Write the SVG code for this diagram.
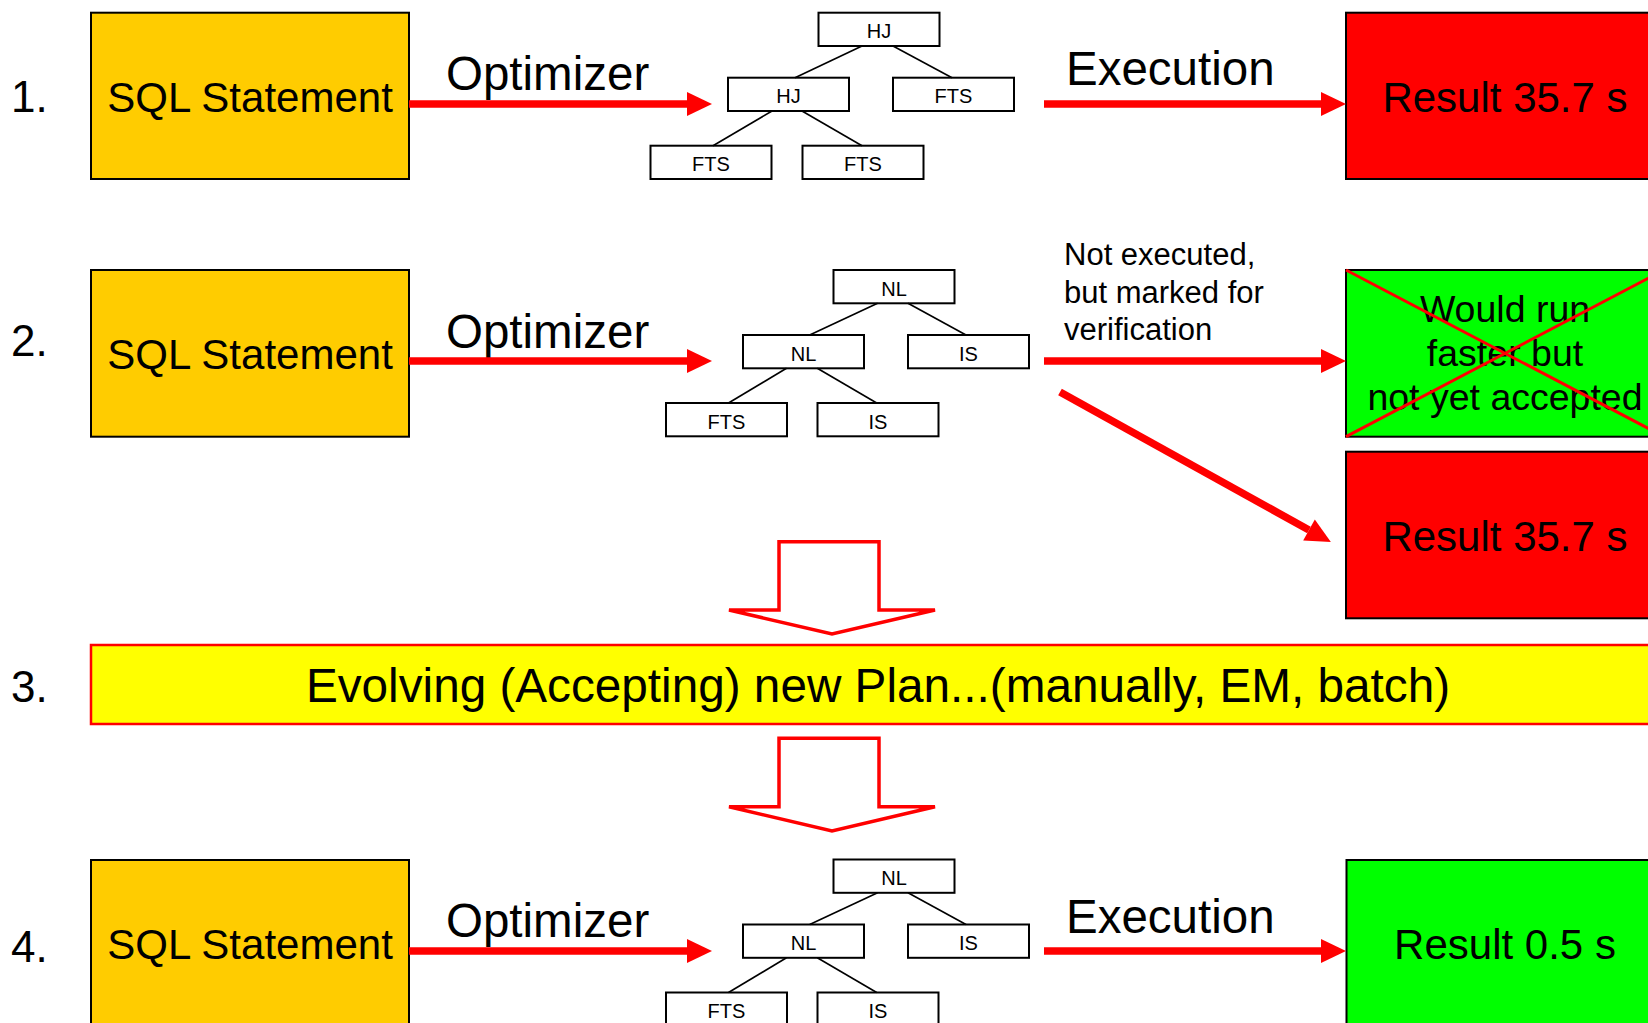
<svg xmlns="http://www.w3.org/2000/svg" width="1648" height="1023" viewBox="0 0 1648 1023">
<style>
text{font-family:"Liberation Sans",Arial,sans-serif;fill:#000}
.sql{fill:#FFCC00;stroke:#000;stroke-width:2}
.red{fill:#FF0000;stroke:#000;stroke-width:2}
.green{fill:#00FF00;stroke:#000;stroke-width:2}
.bar{fill:#FFFF00;stroke:#FF0000;stroke-width:2.5}
.tb{fill:#fff;stroke:#000;stroke-width:2}
.tl{stroke:#000;stroke-width:1.6}
.tt{font-size:20px;text-anchor:middle}
.big{font-size:42px}
.lbl{font-size:47.5px}
.num{font-size:44px}
.mid{text-anchor:middle}
.arr{stroke:#FF0000;stroke-width:7.5;fill:none;marker-end:url(#ah)}
.hollow{fill:#fff;stroke:#FF0000;stroke-width:3.5;stroke-linejoin:miter}
.note{font-size:31px}
.x{stroke:#FF0000;stroke-width:3}
</style>
<defs>
<marker id="ah" markerUnits="userSpaceOnUse" markerWidth="25" markerHeight="24" refX="0" refY="12" orient="auto" overflow="visible">
<path d="M0,0 L25,12 L0,24 Z" fill="#FF0000"/>
</marker>
</defs>

<!-- Row numbers -->
<g id="num1"><text class="num" x="11" y="112">1.</text></g>
<g id="num2"><text class="num" x="11" y="356">2.</text></g>
<g id="num3"><text class="num" x="11" y="702">3.</text></g>
<g id="num4"><text class="num" x="11" y="962">4.</text></g>

<!-- Row 1 -->
<g id="sql1"><rect class="sql" x="91" y="12.7" width="318" height="166.3"/><text class="big mid" x="250" y="112">SQL Statement</text></g>
<g id="opt1"><text class="lbl" x="446" y="90">Optimizer</text></g>
<g id="tree1">
<g id="t1-root"><rect class="tb" x="818.5" y="12.7" width="121" height="33.3"/><text class="tt" x="879" y="38">HJ</text></g>
<g id="t1-l"><rect class="tb" x="728" y="77.7" width="121" height="33.3"/><text class="tt" x="788.5" y="103">HJ</text></g>
<g id="t1-r"><rect class="tb" x="893" y="77.7" width="121" height="33.3"/><text class="tt" x="953.5" y="103">FTS</text></g>
<g id="t1-ll"><rect class="tb" x="650.5" y="145.7" width="121" height="33.3"/><text class="tt" x="711" y="171">FTS</text></g>
<g id="t1-lr"><rect class="tb" x="802.5" y="145.7" width="121" height="33.3"/><text class="tt" x="863" y="171">FTS</text></g>
<line class="tl" x1="862" y1="46" x2="795" y2="77.7"/>
<line class="tl" x1="893" y1="46" x2="952" y2="77.7"/>
<line class="tl" x1="772" y1="111" x2="713" y2="145.7"/>
<line class="tl" x1="802" y1="111" x2="862" y2="145.7"/>
</g>
<g id="exec1"><text class="lbl" x="1066" y="85">Execution</text></g>
<g id="res1"><rect class="red" x="1346" y="12.7" width="318" height="166.3"/><text class="big mid" x="1505" y="112">Result 35.7 s</text></g>

<!-- Row 2 -->
<g id="sql2"><rect class="sql" x="91" y="270" width="318" height="166.7"/><text class="big mid" x="250" y="369.3">SQL Statement</text></g>
<g id="opt2"><text class="lbl" x="446" y="347.5">Optimizer</text></g>
<g id="tree2">
<g id="t2-root"><rect class="tb" x="833.5" y="270" width="121" height="33.3"/><text class="tt" x="894" y="295.5">NL</text></g>
<g id="t2-l"><rect class="tb" x="743" y="335" width="121" height="33.3"/><text class="tt" x="803.5" y="360.5">NL</text></g>
<g id="t2-r"><rect class="tb" x="908" y="335" width="121" height="33.3"/><text class="tt" x="968.5" y="360.5">IS</text></g>
<g id="t2-ll"><rect class="tb" x="666" y="403" width="121" height="33.3"/><text class="tt" x="726.5" y="428.5">FTS</text></g>
<g id="t2-lr"><rect class="tb" x="817.5" y="403" width="121" height="33.3"/><text class="tt" x="878" y="428.5">IS</text></g>
<line class="tl" x1="877.6" y1="303.3" x2="809.7" y2="335"/>
<line class="tl" x1="908" y1="303.3" x2="966" y2="335"/>
<line class="tl" x1="786.5" y1="368.3" x2="728.5" y2="403"/>
<line class="tl" x1="817.3" y1="368.3" x2="876.7" y2="403"/>
</g>
<g id="note2"><text class="note"><tspan x="1064" y="265">Not executed,</tspan><tspan x="1064" y="303">but marked for</tspan><tspan x="1064" y="340">verification</tspan></text></g>
<g id="green2"><rect class="green" x="1346" y="270" width="318" height="166.7"/>
<text class="mid" style="font-size:37.5px"><tspan x="1505" y="322">Would run</tspan><tspan x="1505" y="366">faster but</tspan><tspan x="1505" y="410">not yet accepted</tspan></text>
<line class="x" x1="1346" y1="270" x2="1664" y2="436.7"/>
<line class="x" x1="1346" y1="436.7" x2="1664" y2="270"/>
</g>
<g id="res2"><rect class="red" x="1346" y="451.7" width="318" height="166.6"/><text class="big mid" x="1505" y="551">Result 35.7 s</text></g>

<!-- Row 3 -->
<g id="evolve"><rect class="bar" x="91" y="645" width="1576" height="79"/><text class="mid" style="font-size:47.7px" x="878" y="702">Evolving (Accepting) new Plan...(manually, EM, batch)</text></g>

<!-- Row 4 -->
<g id="sql4"><rect class="sql" x="91" y="860" width="318" height="166.3"/><text class="big mid" x="250" y="959.3">SQL Statement</text></g>
<g id="opt4"><text class="lbl" x="446" y="937">Optimizer</text></g>
<g id="tree4">
<g id="t4-root"><rect class="tb" x="833.5" y="859.5" width="121" height="33.3"/><text class="tt" x="894" y="885">NL</text></g>
<g id="t4-l"><rect class="tb" x="743" y="924.5" width="121" height="33.3"/><text class="tt" x="803.5" y="950">NL</text></g>
<g id="t4-r"><rect class="tb" x="908" y="924.5" width="121" height="33.3"/><text class="tt" x="968.5" y="950">IS</text></g>
<g id="t4-ll"><rect class="tb" x="666" y="992.5" width="121" height="33.3"/><text class="tt" x="726.5" y="1018">FTS</text></g>
<g id="t4-lr"><rect class="tb" x="817.5" y="992.5" width="121" height="33.3"/><text class="tt" x="878" y="1018">IS</text></g>
<line class="tl" x1="877.6" y1="892.8" x2="809.7" y2="924.5"/>
<line class="tl" x1="908" y1="892.8" x2="966" y2="924.5"/>
<line class="tl" x1="786.5" y1="957.8" x2="728.5" y2="992.5"/>
<line class="tl" x1="817.3" y1="957.8" x2="876.7" y2="992.5"/>
</g>
<g id="exec4"><text class="lbl" x="1066" y="933">Execution</text></g>
<g id="res4"><rect class="green" x="1346.5" y="860" width="318" height="166.3"/><text class="big mid" x="1505" y="958.5">Result 0.5 s</text></g>

<!-- Connectors -->
<g id="connectors">
<line class="arr" x1="409" y1="104" x2="687" y2="104"/>
<line class="arr" x1="1044" y1="104" x2="1321" y2="104"/>
<line class="arr" x1="409" y1="361" x2="687" y2="361"/>
<line class="arr" x1="1044" y1="361" x2="1321" y2="361"/>
<line class="arr" x1="1060" y1="392" x2="1309" y2="530"/>
<line class="arr" x1="409" y1="951" x2="687" y2="951"/>
<line class="arr" x1="1044" y1="951" x2="1321" y2="951"/>
<polygon class="hollow" points="779,541.7 879,541.7 879,610 935,610 832,634 729,610 779,610"/>
<polygon class="hollow" points="779,738.3 879,738.3 879,806.7 935,806.7 832,831 729,806.7 779,806.7"/>
</g>
</svg>
